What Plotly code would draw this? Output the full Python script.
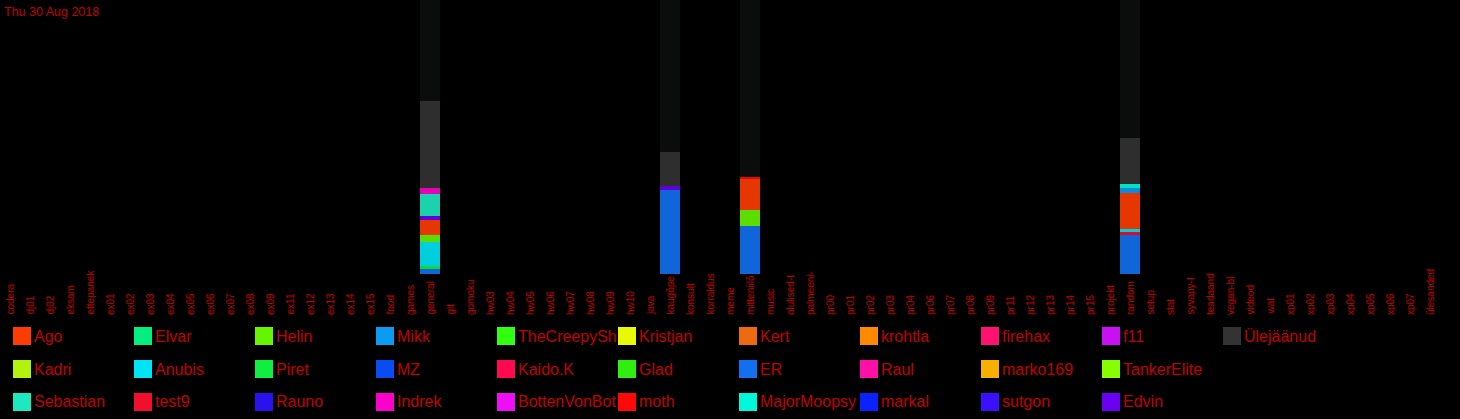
import plotly.graph_objects as go

# ---------------- data ----------------
categories = ["codera", "dj01", "dj02", "eksam", "ettepanek",
              "ex01", "ex02", "ex03", "ex04", "ex05", "ex06", "ex07", "ex08", "ex09",
              "ex11", "ex12", "ex13", "ex14", "ex15",
              "food", "games", "general", "git", "gomoku",
              "hw03", "hw04", "hw05", "hw06", "hw07", "hw08", "hw09", "hw10",
              "java", "kaugõpe", "konsult", "korraldus", "meme", "mitteniilõ",
              "music", "olulised-t", "palmeeni-",
              "pr00", "pr01", "pr02", "pr03", "pr04", "pr06", "pr07", "pr08", "pr09",
              "pr11", "pr12", "pr13", "pr14", "pr15",
              "projekt", "random", "setup", "stat", "syvapy-t", "teadaand", "vegan-bl",
              "videod", "wat",
              "xp01", "xp02", "xp03", "xp04", "xp05", "xp06", "xp07", "ülesanded"]

active = ["general", "kaugõpe", "mitteniilõ", "random"]

# stacked values (bottom -> top) for the active channels
ER          = [5.0, 84.0, 48.0, 38.7]
Piret       = [3.0, 0.0, 0.0, 0.0]
test9       = [0.0, 0.0, 0.0, 3.3]
Anubis      = [24.0, 0.0, 0.0, 3.0]
Helin       = [7.0, 0.0, 16.0, 0.0]
Ago         = [15.0, 0.0, 31.0, 36.0]
moth        = [0.0, 0.0, 2.0, 0.0]
Edvin       = [4.0, 4.0, 0.0, 0.0]
Mikk        = [0.0, 0.0, 0.0, 4.7]
Sebastian   = [22.0, 0.0, 0.0, 0.0]
MajorMoopsy = [0.0, 0.0, 0.0, 4.3]
Indrek      = [6.0, 0.0, 0.0, 0.0]
Ulejaanud   = [87.0, 34.0, 0.0, 46.3]
rest        = [100.7, 152.0, 177.0, 137.7]
y_max = 274

title_text = "Thu 30 Aug 2018"

# legend (column-major order, 3 rows)
legend_names = ["Ago", "Kadri", "Sebastian",
                "Elvar", "Anubis", "test9",
                "Helin", "Piret", "Rauno",
                "Mikk", "MZ", "Indrek",
                "TheCreepySh", "Kaido.K", "BottenVonBot",
                "Kristjan", "Glad", "moth",
                "Kert", "ER", "MajorMoopsy",
                "krohtla", "Raul", "markal",
                "firehax", "marko169", "sutgon",
                "f11", "TankerElite", "Edvin",
                "Ülejäänud"]
legend_colors = ["#ff3d00", "#b2f20e", "#1de9bf",
                 "#00ef7e", "#00e5f5", "#f0102e",
                 "#66f500", "#10ef40", "#2a12ef",
                 "#0a9cf0", "#0a4cf2", "#ff00cc",
                 "#30ff10", "#ff0a52", "#ee10f4",
                 "#e8fa00", "#30ef10", "#ff0808",
                 "#ee6a10", "#1270f0", "#00f8da",
                 "#ff8a00", "#ff10a6", "#0a22ff",
                 "#ff1272", "#f7b000", "#3a10ff",
                 "#c810f2", "#88ff00", "#6a00f2",
                 "#333333"]
color_of = dict(zip(legend_names, legend_colors))

stack = [("ER", ER), ("Piret", Piret), ("test9", test9), ("Anubis", Anubis),
         ("Helin", Helin), ("Ago", Ago), ("moth", moth), ("Edvin", Edvin),
         ("Mikk", Mikk), ("Sebastian", Sebastian), ("MajorMoopsy", MajorMoopsy),
         ("Indrek", Indrek), ("Ülejäänud", Ulejaanud)]

# ---------------- figure ----------------
W, H = 1460, 419
ML, MR, MT, MB = 0, 20, 0, 145
PW, PH = W - ML - MR, H - MT - MB
FONT = "Liberation Sans Narrow, Liberation Sans, Arial, sans-serif"
TXT = "#c00000"

fig = go.Figure()
for name, vals in stack:
    fig.add_trace(go.Bar(x=active, y=vals, name=name, marker_color=color_of[name],
                         marker_line_width=0, opacity=0.9, showlegend=False))
fig.add_trace(go.Bar(x=active, y=rest, name="rest", marker_color="#0b0d0c",
                     marker_line_width=0, showlegend=False))


def px_x(px):
    return (px - ML) / PW


def px_y(py):
    return (MT + PH - py) / PH


annotations = []
shapes = []

# title
annotations.append(dict(text=title_text, x=px_x(2), y=px_y(3), xref="paper", yref="paper",
                        xanchor="left", yanchor="top", showarrow=False,
                        font=dict(family=FONT, size=12.5, color=TXT)))

# category labels (bottom-aligned, rotated)
for c in categories:
    annotations.append(dict(text=c, x=c, xref="x", y=px_y(317), yref="paper",
                            xanchor="center", yanchor="bottom", textangle=-90,
                            showarrow=False,
                            font=dict(family=FONT, size=10, color=TXT)))

# custom grid legend
col_x0, col_step = 13, 121
row_y0, row_step = 327, 33
sq = 18
for i, (nm, col) in enumerate(zip(legend_names, legend_colors)):
    ci, ri = divmod(i, 3)
    x0 = col_x0 + ci * col_step
    y0 = row_y0 + ri * row_step
    shapes.append(dict(type="rect", xref="paper", yref="paper",
                       x0=px_x(x0), x1=px_x(x0 + sq), y0=px_y(y0 + sq), y1=px_y(y0),
                       fillcolor=col, line=dict(width=0)))
    annotations.append(dict(text=nm, x=px_x(x0 + sq + 1), y=px_y(y0 + sq / 2),
                            xref="paper", yref="paper", xanchor="left", yanchor="middle",
                            showarrow=False,
                            font=dict(family=FONT, size=16, color=TXT)))

fig.update_layout(
    width=W, height=H,
    margin=dict(l=ML, r=MR, t=MT, b=MB, pad=0),
    paper_bgcolor="#000000", plot_bgcolor="#000000",
    barmode="stack", bargap=0,
    xaxis=dict(type="category", categoryorder="array", categoryarray=categories,
               range=[-0.5, len(categories) - 0.5], showticklabels=False,
               showgrid=False, zeroline=False, showline=False, ticks=""),
    yaxis=dict(range=[0, y_max], showticklabels=False, showgrid=False,
               zeroline=False, showline=False, ticks=""),
    annotations=annotations, shapes=shapes,
    showlegend=False,
)

fig.write_html("out.html",
               config={"displayModeBar": False},
               post_script="document.body.style.margin='0px';"
                           "document.body.style.backgroundColor='#000000';")
